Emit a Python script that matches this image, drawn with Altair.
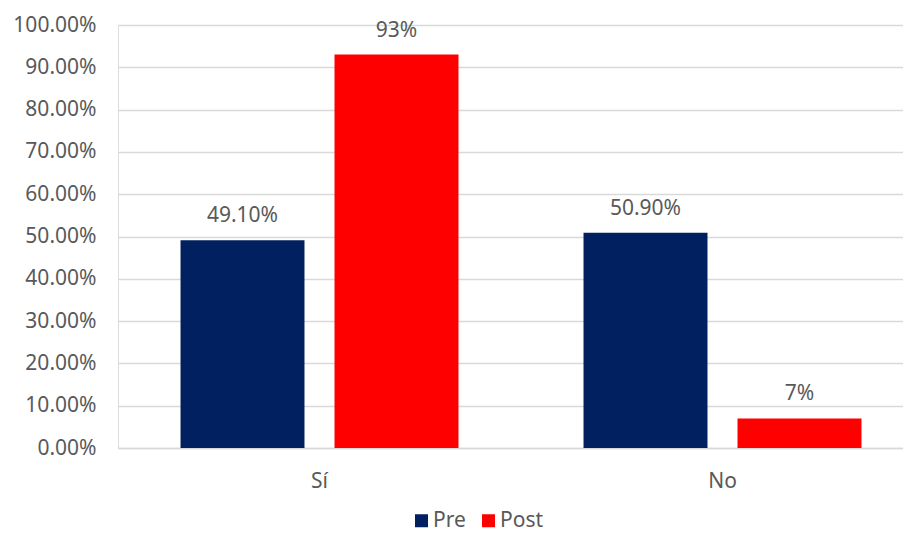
import altair as alt
import pandas as pd

categories = ["Sí", "Sí", "No", "No"]
series = ["Pre", "Post", "Pre", "Post"]
values = [0.491, 0.93, 0.509, 0.07]
labels = ["49.10%", "93%", "50.90%", "7%"]

df = pd.DataFrame({"cat": categories, "serie": series, "val": values, "lab": labels})

FONT = "Noto Sans"
GREY = "#595959"
GRID = "#D9D9D9"
FS = 21

x = alt.X("cat:N", sort=["Sí", "No"], title=None,
          scale=alt.Scale(paddingInner=0, paddingOuter=0, range=[0, 806]),
          axis=alt.Axis(labelAngle=0, ticks=False, grid=False, domain=True, domainColor=GRID,
                        domainWidth=1.3, labelPadding=22, labelFontSize=FS, labelColor=GREY,
                        labelFont=FONT))
xo = alt.XOffset("serie:N", sort=["Pre", "Post"],
                 scale=alt.Scale(paddingInner=0.195, paddingOuter=0.406))
y = alt.Y("val:Q", title=None,
          scale=alt.Scale(domain=[0, 1], nice=False),
          axis=alt.Axis(values=[i / 10 for i in range(11)], format=".2%", ticks=False, domain=False,
                        grid=True, gridColor=GRID, gridWidth=1.3, labelPadding=22,
                        labelFontSize=FS, labelColor=GREY, labelFont=FONT))

bars = alt.Chart(df).mark_bar().encode(
    x=x, xOffset=xo, y=y,
    color=alt.Color("serie:N", sort=["Pre", "Post"],
                    scale=alt.Scale(domain=["Pre", "Post"], range=["#002060", "#FF0000"]),
                    legend=alt.Legend(title=None, orient="none", direction="horizontal",
                                      legendX=293, legendY=485, symbolType="square",
                                      symbolSize=169, symbolStrokeWidth=0, labelFontSize=FS,
                                      labelColor=GREY, labelFont=FONT, labelOffset=1,
                                      columnPadding=12)),
)

text = alt.Chart(df).mark_text(baseline="bottom", dy=-14, fontSize=FS, color=GREY, font=FONT).encode(
    x=x, xOffset=xo, y=y, text="lab:N"
)

chart = (bars + text).properties(
    width=785, height=423,
    autosize=alt.AutoSizeParams(type="none"),
    padding={"left": 110, "top": 17, "right": 0, "bottom": 85},
).configure_view(strokeWidth=0, stroke="transparent").configure_axisX(
    grid=False
).configure_axisY(domain=False).configure(background="white")

chart.save("out.html", embed_options={"renderer": "svg", "actions": False})
